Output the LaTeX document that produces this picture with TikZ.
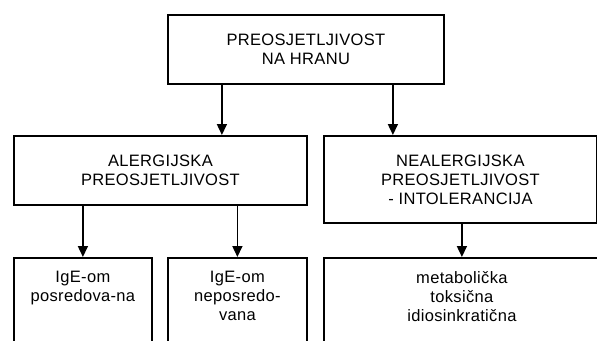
\documentclass[tikz,border=0pt]{standalone}
\usepackage{fontspec}
\setmainfont{Liberation Sans}[LetterSpace=2]
\usetikzlibrary{arrows.meta,positioning}
\tikzset{>={Triangle[length=11pt,width=10pt]}}
\tikzset{
    box/.style={draw, line width=1.8pt, inner sep=0pt, anchor=north west, align=center,
        font=\fontsize{16.5}{19}\selectfont},
    boxtext/.style={inner sep=0pt, align=center, font=\fontsize{16.5}{19}\selectfont},
    arrow/.style={->, line width=1.6pt}
}

\begin{document}
\begin{tikzpicture}[x=1pt, y=-1pt]
    \useasboundingbox (0,0) rectangle (597,340);
    \fill[white] (0,0) rectangle (597,340);
    \clip (0,0) rectangle (597,340);

    % top
    \node[box, minimum width=276pt, minimum height=69pt] (hrana) at (167,14) {PREOSJETLJIVOST\\NA HRANU};

    % middle row
    \node[box, minimum width=293pt, minimum height=69pt] (alerg) at (13,135) {ALERGIJSKA\\PREOSJETLJIVOST};
    \node[box, minimum width=273pt, minimum height=87pt] (nealerg) at (323,135) {NEALERGIJSKA\\PREOSJETLJIVOST\\- INTOLERANCIJA};

    % bottom row, cut off at the lower edge
    \node[box, minimum width=138pt, minimum height=120pt] (posr) at (13,257) {};
    \node[box, minimum width=139pt, minimum height=120pt] (neposr) at (167,257) {};
    \node[box, minimum width=276pt, minimum height=120pt] (metab) at (323,257) {};

    \node[boxtext, below=14pt of posr.north] (posrtxt) {IgE-om\\posredova-na};
    \node[boxtext, below=14pt of neposr.north] (neposrtxt) {IgE-om\\neposredo-\\vana};
    \node[boxtext, below=14pt of metab.north] (metabtxt) {metabolička\\toksična\\idiosinkratična};

    \draw[arrow] ([xshift=-84pt]hrana.south) -- ([xshift=-84pt]hrana.south |- alerg.north);
    \draw[arrow] ([xshift=87pt]hrana.south) -- ([xshift=87pt]hrana.south |- nealerg.north);

    \draw[arrow] (posr.north |- alerg.south) -- (posr.north);
    \draw[arrow] (neposr.north |- alerg.south) -- (neposr.north);
    \draw[arrow] (metab.north |- nealerg.south) -- (metab.north);
\end{tikzpicture}
\end{document}
